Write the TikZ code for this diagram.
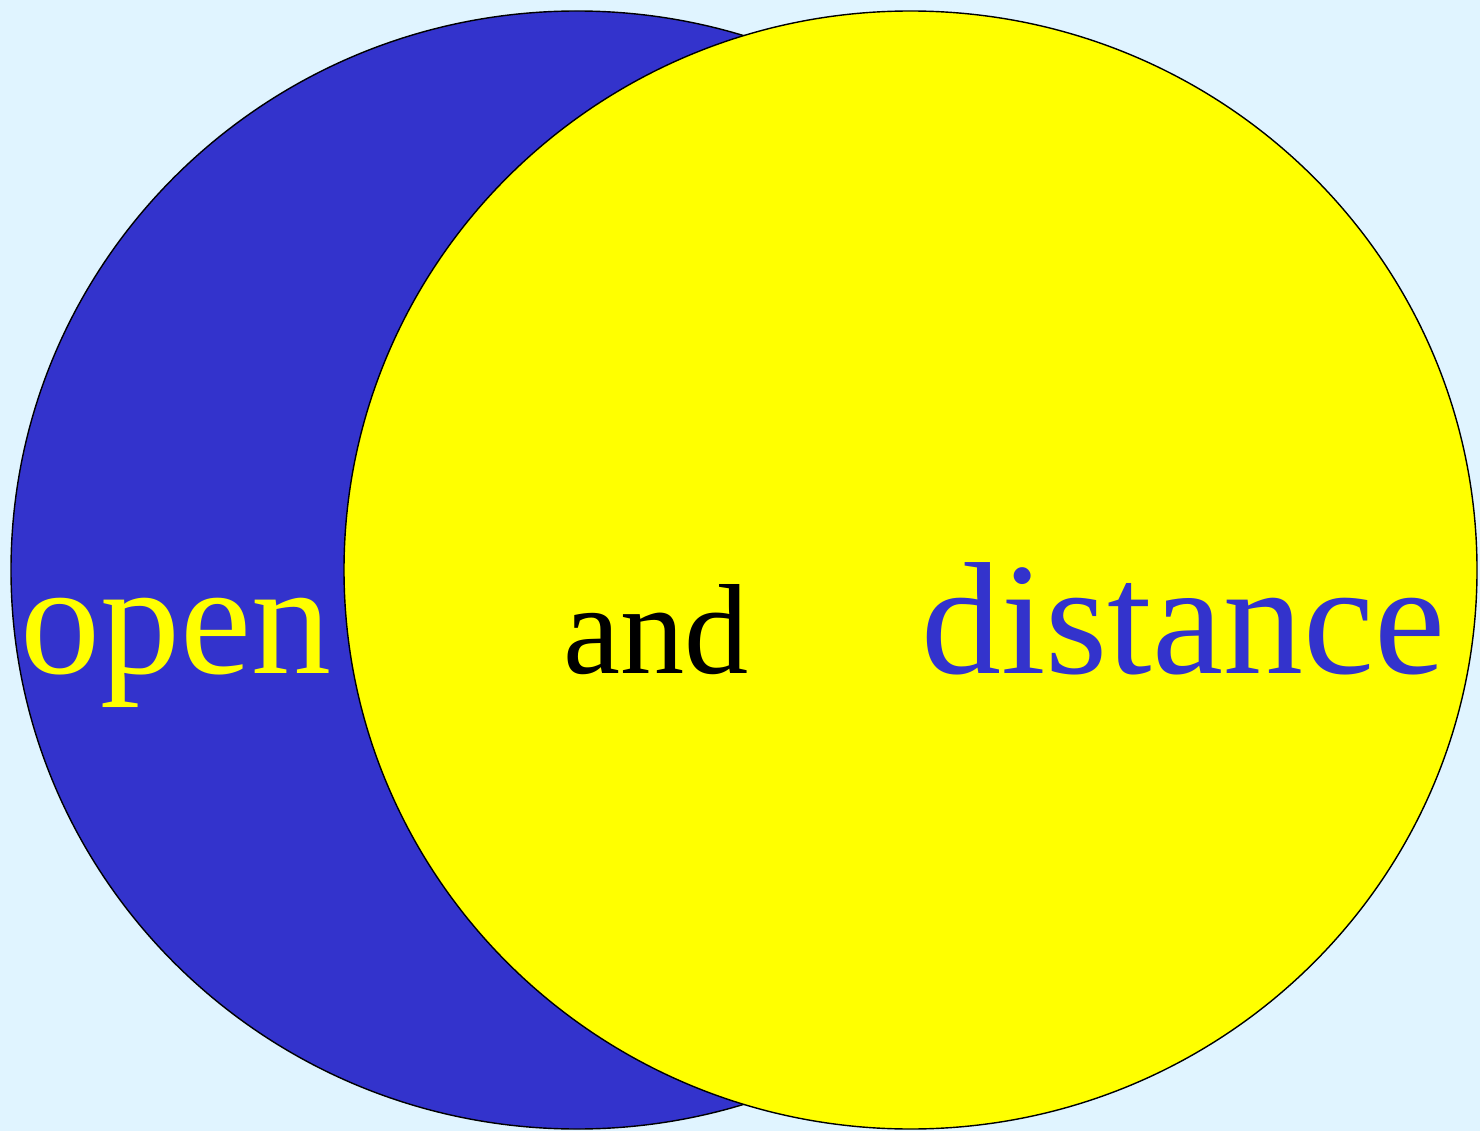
\documentclass[tikz,border=0pt]{standalone}
\usepackage{fontspec}
\setmainfont{Liberation Serif}
\usetikzlibrary{positioning}
\definecolor{skybg}{HTML}{E0F4FF}
\definecolor{vennblue}{HTML}{3333CC}
\definecolor{vennyellow}{HTML}{FFFF00}

\begin{document}
\begin{tikzpicture}[
    disc/.style={draw=black, line width=0.8pt},
    bigword/.style={anchor=base, font=\fontsize{91pt}{100pt}\selectfont, inner sep=0pt},
    smallword/.style={anchor=base, font=\fontsize{73pt}{80pt}\selectfont, inner sep=0pt}
]
    % background
    \fill[skybg] (0, 0) rectangle (29.6, 22.62);
    \useasboundingbox (0, 0) rectangle (29.6, 22.62);

    % the two discs
    \draw[disc, fill=vennblue] (11.54, 11.22) ellipse [x radius=11.32, y radius=11.18];
    \draw[disc, fill=vennyellow] (18.21, 11.22) ellipse [x radius=11.33, y radius=11.18];

    % words
    \node[bigword, text=vennyellow] (open) at (3.52, 9.16) {open};
    \node[smallword, text=black] (and) at (13.12, 9.16) {and};
    \node[bigword, text=vennblue] (distance) at (23.66, 9.16) {distance};
\end{tikzpicture}
\end{document}
